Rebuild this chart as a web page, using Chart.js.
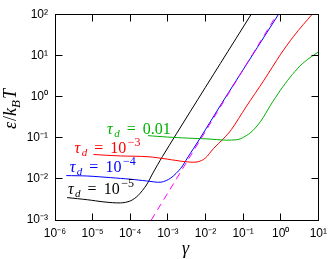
<!DOCTYPE html>
<html><head><meta charset="utf-8">
<script src="https://cdn.jsdelivr.net/npm/chart.js@4/dist/chart.umd.min.js"></script>
<style>html,body{margin:0;padding:0;background:#fff;}#wrap{width:333px;height:259px;}</style>
</head><body><div id="wrap"><canvas id="c" width="333" height="259"></canvas></div>
<script>
// ---- tick values / labels ----
const xTicks = [1e-6, 1e-5, 1e-4, 1e-3, 1e-2, 1e-1, 1e0, 1e1];
const xTickLabels = ['10\u207B\u2076','10\u207B\u2075','10\u207B\u2074','10\u207B\u00B3','10\u207B\u00B2','10\u207B\u00B9','10\u2070','10\u00B9'];
const yTicks = [1e-3, 1e-2, 1e-1, 1e0, 1e1, 1e2];
const yTickLabels = ['10\u207B\u00B3','10\u207B\u00B2','10\u207B\u00B9','10\u2070','10\u00B9','10\u00B2'];

// ---- series ----
const gammaTd5 = [2.1e-6, 7.4e-6, 2.0e-5, 5.5e-5, 1.0e-4, 1.6e-4, 2.7e-4, 4.0e-4, 7.2e-4, 4.0e-3, 2.5e-2, 0.165];
const epsTd5   = [3.5e-3, 3.1e-3, 2.75e-3, 2.6e-3, 2.9e-3, 3.9e-3, 7.1e-3, 1.38e-2, 3.5e-2, 0.44, 6.4, 100];

const gammaTd4 = [2.0e-6, 7.4e-6, 3.0e-5, 1.0e-4, 2.7e-4, 6.6e-4, 1.2e-3, 2.2e-3, 3.3e-3, 7.2e-3, 2.7e-2, 0.158, 0.88];
const epsTd4   = [1.2e-2, 1.17e-2, 1.07e-2, 9.8e-3, 8.9e-3, 8.3e-3, 1.05e-2, 1.8e-2, 3.2e-2, 9.7e-2, 0.68, 8.6, 100];

const gammaTd3 = [1.05e-5, 5.5e-5, 2.95e-4, 9.9e-4, 2.7e-3, 6.0e-3, 9.8e-3, 1.62e-2, 2.95e-2, 4.9e-2, 0.12, 0.36, 1.0, 2.17, 3.98, 6.9];
const epsTd3   = [3.9e-2, 3.6e-2, 3.45e-2, 3.0e-2, 2.63e-2, 2.57e-2, 3.16e-2, 5.4e-2, 9.3e-2, 0.158, 0.56, 2.5, 10.7, 28.5, 56, 100];

const gammaTd2 = [2.95e-4, 9.9e-4, 3.3e-3, 1.1e-2, 3.6e-2, 6.6e-2, 8.9e-2, 0.162, 0.295, 0.537, 0.977, 1.78, 3.24, 5.9, 10];
const epsTd2   = [0.112, 0.1035, 0.0977, 0.0933, 0.0871, 0.0891, 0.0955, 0.135, 0.251, 0.617, 1.41, 2.95, 5.5, 8.7, 12.0];

const gammaRef = [3.63e-4, 0.80];
const epsRef   = [1e-3, 100];

// ---- curve labels: tau_d text and anchor (data coords, left/baseline) ----
const labelTau   = ['0.01', '\u22123', '\u22124', '\u22125'];
const labelGamma = [2.4e-5, 3.3e-6, 2.45e-6, 2.2e-6];
const labelEps   = [0.12, 0.0427, 0.0145, 0.00437];

const GREEN = '#00b000', RED = '#ff0000', BLUE = '#0000ff', BLACK = '#000000', MAGENTA = '#ff00ff';
const labelColors = [GREEN, RED, BLUE, BLACK];

function pts(xs, ys){ return xs.map((v,i)=>({x:v, y:ys[i]})); }
function ds(xs, ys, color, dash){
  return {data: pts(xs, ys), borderColor: color, backgroundColor: color, borderWidth: 1,
          showLine: true, pointRadius: 0, fill: false, tension: 0.3,
          borderDash: dash || []};
}

const SERIF = '"Liberation Serif", "DejaVu Serif", serif';
function rich(ctx, x, y, parts, draw){
  let cx = x;
  for (const p of parts){
    if (p.gap){ cx += p.gap; continue; }
    ctx.font = p.f;
    if (draw) ctx.fillText(p.t, cx, y + (p.dy||0));
    cx += ctx.measureText(p.t).width;
  }
  return cx - x;
}

const decor = {
  id: 'decor',
  afterDatasetsDraw(chart){
    const {ctx, chartArea: a, scales: {x, y}} = chart;
    ctx.save();
    ctx.strokeStyle = '#000'; ctx.lineWidth = 1;
    const L = Math.floor(a.left)+0.5, R = Math.floor(a.right)+0.5, T = Math.floor(a.top)+0.5, B = Math.floor(a.bottom)+0.5;
    ctx.strokeRect(L, T, R-L, B-T);
    const tl = 7;
    ctx.beginPath();
    xTicks.forEach(v => { const p = Math.floor(x.getPixelForValue(v))+0.5;
      ctx.moveTo(p, B); ctx.lineTo(p, B-tl); ctx.moveTo(p, T); ctx.lineTo(p, T+tl); });
    yTicks.forEach(v => { const p = Math.floor(y.getPixelForValue(v))+0.5;
      ctx.moveTo(L, p); ctx.lineTo(L+tl, p); ctx.moveTo(R, p); ctx.lineTo(R-tl, p); });
    ctx.stroke();

    // curve labels
    ctx.textBaseline = 'alphabetic'; ctx.textAlign = 'left';
    const it = 'italic 16px ' + SERIF, its = 'italic 11px ' + SERIF, rm = '16px ' + SERIF, rms = '12px ' + SERIF;
    labelTau.forEach((t, i) => {
      const px = x.getPixelForValue(labelGamma[i]), py = y.getPixelForValue(labelEps[i]);
      const parts = [{t:'\u03C4', f: it}, {gap: 1.5}, {t:'d', f: its, dy: 3}, {gap: 7}, {t:'=', f: rm}, {gap: 7}];
      if (i === 0) parts.push({t: t, f: rm});
      else { parts.push({t:'10', f: rm}); parts.push({gap: 1.5}); parts.push({t: t, f: rms, dy: -7}); }
      ctx.fillStyle = labelColors[i];
      rich(ctx, px, py, parts, true);
    });

    // axis titles
    ctx.fillStyle = '#000';
    const tf = 'italic 18px ' + SERIF, tfs = 'italic 13px ' + SERIF, tr = '18px ' + SERIF;
    const yt = [{t:'\u03B5', f: tf}, {gap:1}, {t:'/', f: tr}, {t:'k', f: tf}, {t:'B', f: tfs, dy: 4}, {gap:1}, {t:'T', f: tf}];
    const w = rich(ctx, 0, 0, yt, false);
    ctx.save();
    ctx.translate(16, (a.top + a.bottom)/2 - 8);
    ctx.rotate(-Math.PI/2);
    rich(ctx, -w/2, 0, yt, true);
    ctx.restore();
    const xt = [{t:'\u03B3', f: tf}];
    const wx = rich(ctx, 0, 0, xt, false);
    rich(ctx, (a.left + a.right)/2 - wx/2 - 1, 254, xt, true);
    ctx.restore();
  }
};

const tickFont = {family: '"Liberation Sans", Arial, Helvetica, sans-serif', size: 12};
new Chart(document.getElementById('c'), {
  type: 'scatter',
  data: { datasets: [
    ds(gammaRef, epsRef, MAGENTA, [7, 5]),
    ds(gammaTd2, epsTd2, GREEN),
    ds(gammaTd3, epsTd3, RED),
    ds(gammaTd4, epsTd4, BLUE),
    ds(gammaTd5, epsTd5, BLACK)
  ]},
  options: {
    responsive: false, animation: false, devicePixelRatio: 1,
    layout: {padding: {left: 0, top: 8, right: 9, bottom: 0}},
    plugins: {legend: {display: false}, tooltip: {enabled: false}},
    scales: {
      x: {type: 'logarithmic', position: 'bottom', min: 1e-6, max: 10,
          afterBuildTicks: s => { s.ticks = xTicks.map(v => ({value: v})); },
          afterFit: s => { s.height = 39; },
          ticks: {callback: v => xTickLabels[xTicks.indexOf(v)], font: tickFont, color: '#000', padding: 6, maxRotation: 0, autoSkip: false},
          grid: {display: false, drawTicks: false}, border: {display: false}},
      y: {type: 'logarithmic', position: 'left', min: 1e-3, max: 100,
          afterBuildTicks: s => { s.ticks = yTicks.map(v => ({value: v})); },
          afterFit: s => { s.width = 55; },
          ticks: {callback: v => yTickLabels[yTicks.indexOf(v)], font: tickFont, color: '#000', padding: 7, autoSkip: false},
          grid: {display: false, drawTicks: false}, border: {display: false}}
    }
  },
  plugins: [decor]
});
</script></body></html>
